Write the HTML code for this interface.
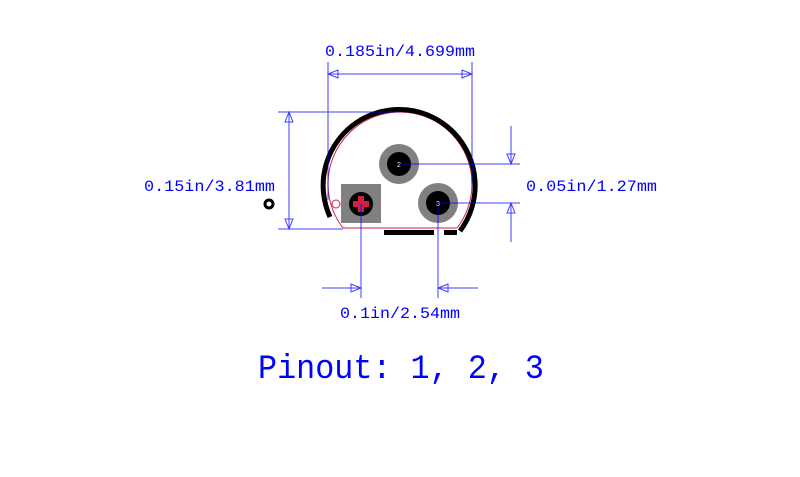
<!DOCTYPE html>
<html><head><style>html,body{margin:0;padding:0;background:#fff;}svg{display:block}</style></head>
<body>
<svg width="800" height="477" viewBox="0 0 800 477" xmlns="http://www.w3.org/2000/svg">
<defs>
<clipPath id="c"><rect x="0" y="0" width="800" height="228"/></clipPath>
</defs>
<g font-family="Liberation Mono, monospace" fill="#0000ff">
<text x="325" y="56" font-size="16" textLength="150" lengthAdjust="spacingAndGlyphs">0.185in/4.699mm</text>
<text x="144" y="191" font-size="16" textLength="131" lengthAdjust="spacingAndGlyphs">0.15in/3.81mm</text>
<text x="526" y="191" font-size="16" textLength="131" lengthAdjust="spacingAndGlyphs">0.05in/1.27mm</text>
<text x="340" y="318" font-size="16" textLength="120" lengthAdjust="spacingAndGlyphs">0.1in/2.54mm</text>
<text x="258" y="378" font-size="34" textLength="286" lengthAdjust="spacingAndGlyphs">Pinout: 1, 2, 3</text>
</g>
<!-- outline -->
<circle cx="400" cy="184" r="72" fill="none" stroke="#d02040" stroke-width="1" clip-path="url(#c)"/>
<line x1="343" y1="228" x2="457" y2="228" stroke="#d02040" stroke-width="1"/>
<path d="M330 217 A76 76 0 1 1 460 231" fill="none" stroke="#000" stroke-width="5"/>
<circle cx="336" cy="204" r="4" fill="#fff" stroke="#d02040" stroke-width="1"/>
<rect x="384" y="230" width="50" height="5" fill="#000"/>
<rect x="444" y="230" width="13" height="5" fill="#000"/>
<circle cx="269" cy="204" r="4" fill="none" stroke="#000" stroke-width="3"/>
<!-- pads -->
<rect x="341" y="184" width="40" height="39" fill="#808080"/>
<circle cx="361" cy="204" r="12" fill="#000"/>
<rect x="353" y="201" width="16" height="6" fill="#d02040"/>
<rect x="358" y="196" width="6" height="16" fill="#d02040"/>
<circle cx="399" cy="164" r="20" fill="#808080"/>
<circle cx="399" cy="164" r="12" fill="#000"/>
<text x="399" y="167" font-size="7" fill="#fff" text-anchor="middle" font-family="Liberation Sans, sans-serif">2</text>
<circle cx="438" cy="203" r="20" fill="#808080"/>
<circle cx="438" cy="203" r="12" fill="#000"/>
<text x="438" y="206" font-size="7" fill="#fff" text-anchor="middle" font-family="Liberation Sans, sans-serif">3</text>
<!-- dimension lines -->
<g stroke="#0000ff" stroke-width="1" fill="none" opacity="0.75">
<line x1="328" y1="62" x2="328" y2="200"/>
<line x1="472" y1="62" x2="472" y2="185"/>
<line x1="328" y1="74" x2="472" y2="74"/>
<path d="M328 74 L338 70 L338 78 Z"/>
<path d="M472 74 L462 70 L462 78 Z"/>
<line x1="278" y1="112" x2="400" y2="112"/>
<line x1="278" y1="229" x2="343" y2="229"/>
<line x1="289" y1="112" x2="289" y2="229"/>
<path d="M289 112 L285 122 L293 122 Z"/>
<path d="M289 229 L285 219 L293 219 Z"/>
<line x1="399" y1="164" x2="520" y2="164"/>
<line x1="438" y1="203" x2="520" y2="203"/>
<line x1="511" y1="126" x2="511" y2="164"/>
<line x1="511" y1="203" x2="511" y2="242"/>
<path d="M511 164 L507 154 L515 154 Z"/>
<path d="M511 203 L507 213 L515 213 Z"/>
<line x1="361" y1="204" x2="361" y2="298"/>
<line x1="438" y1="203" x2="438" y2="298"/>
<line x1="322" y1="288" x2="361" y2="288"/>
<line x1="438" y1="288" x2="478" y2="288"/>
<path d="M361 288 L351 284 L351 292 Z"/>
<path d="M438 288 L448 284 L448 292 Z"/>
</g>
</svg>
</body></html>
